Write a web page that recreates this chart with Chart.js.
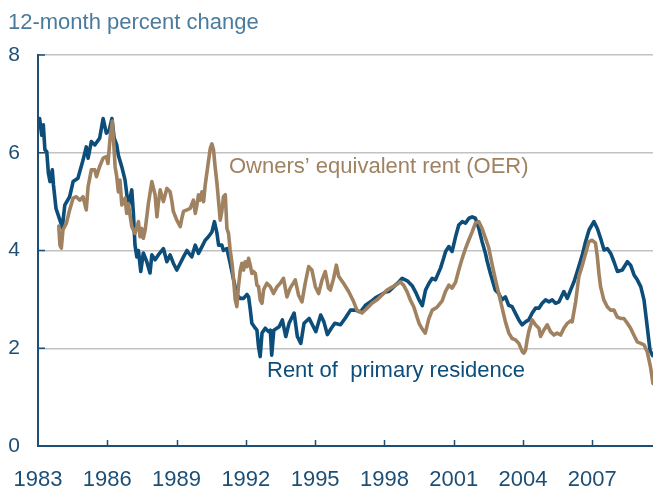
<!DOCTYPE html>
<html>
<head>
<meta charset="utf-8">
<script src="https://cdn.jsdelivr.net/npm/chart.js@4.4.1/dist/chart.umd.min.js"></script>
<style>
  html, body { margin: 0; padding: 0; background: #ffffff; }
  #wrap { width: 653px; height: 490px; position: relative; }
</style>
</head>
<body>
<div id="wrap"><canvas id="c" width="653" height="490"></canvas></div>
<script>
// ---- Data (12-month percent change) ----
const tickYears = [1983, 1986, 1989, 1992, 1995, 1998, 2001, 2004, 2007];
const yTicks = [0, 2, 4, 6, 8];

const rentYears = [
1983.00,1983.07,1983.16,1983.23,1983.30,1983.38,1983.45,1983.52,1983.62,1983.67,1983.78,1983.88,1984.00,1984.05,1984.16,1984.37,1984.52,1984.73,1984.95,
1985.09,1985.17,1985.31,1985.46,1985.67,1985.82,1985.96,1986.08,1986.20,1986.30,1986.41,1986.48,1986.63,1986.77,1986.91,
1987.06,1987.13,1987.20,1987.28,1987.35,1987.45,1987.56,1987.71,1987.85,1987.93,1988.07,1988.21,1988.43,1988.58,1988.72,1988.86,
1989.01,1989.16,1989.30,1989.45,1989.52,1989.66,1989.81,1989.95,1990.10,1990.24,1990.38,1990.53,1990.64,1990.75,1990.82,1990.96,
1991.03,1991.18,1991.32,1991.47,1991.61,1991.76,1991.90,1992.05,1992.12,1992.19,1992.26,1992.41,1992.48,1992.55,1992.62,1992.70,1992.84,1992.98,
1993.06,1993.12,1993.21,1993.44,1993.58,1993.73,1993.87,1994.09,1994.23,1994.38,1994.52,1994.74,1994.88,1995.03,1995.24,1995.38,1995.53,1995.70,1995.85,
1996.10,1996.31,1996.53,1996.75,1996.96,1997.18,1997.40,1997.61,1997.83,1998.05,1998.19,1998.41,1998.63,1998.77,1998.99,
1999.20,1999.35,1999.50,1999.64,1999.78,1999.93,2000.07,2000.21,2000.43,2000.57,2000.65,2000.79,2000.93,
2001.08,2001.22,2001.37,2001.51,2001.66,2001.80,2001.94,2002.09,2002.23,2002.37,2002.45,2002.59,2002.80,2002.95,
2003.09,2003.24,2003.38,2003.53,2003.67,2003.82,2003.96,2004.11,2004.25,2004.40,2004.54,2004.69,2004.83,2004.98,
2005.12,2005.27,2005.41,2005.56,2005.77,2005.92,2006.06,2006.21,2006.35,2006.57,2006.71,2006.86,
2007.07,2007.22,2007.36,2007.51,2007.65,2007.80,2007.94,2008.09,2008.30,2008.52,2008.66,2008.81,2008.95,
2009.10,2009.24,2009.38,2009.50,2009.61];
const rentValues = [
6.65,6.70,6.36,6.57,6.06,6.02,5.58,5.41,5.65,5.34,4.86,4.72,4.55,4.46,4.93,5.10,5.41,5.48,5.85,
6.12,5.89,6.23,6.16,6.30,6.70,6.40,6.45,6.70,6.30,6.16,5.95,5.71,5.44,4.90,
5.24,4.77,4.11,3.87,4.00,3.57,3.95,3.77,3.54,3.91,3.81,3.91,4.04,3.77,3.91,3.74,
3.60,3.74,3.87,4.00,3.95,3.87,4.11,3.94,4.08,4.21,4.28,4.38,4.59,4.35,4.11,4.11,
4.00,4.04,3.74,3.40,3.09,3.02,3.02,3.10,3.05,2.80,2.51,2.41,2.37,2.03,1.83,2.31,2.41,2.34,
2.37,1.86,2.37,2.44,2.58,2.24,2.51,2.72,2.24,2.10,2.51,2.61,2.48,2.34,2.68,2.54,2.28,2.41,2.51,
2.48,2.62,2.78,2.78,2.74,2.88,2.95,3.03,3.09,3.15,3.16,3.26,3.36,3.43,3.38,
3.28,3.15,2.99,2.87,3.19,3.33,3.43,3.40,3.64,3.85,3.98,4.08,3.98,
4.28,4.52,4.59,4.56,4.66,4.69,4.66,4.45,4.18,3.95,3.78,3.53,3.19,3.12,
2.99,3.05,2.88,2.85,2.72,2.58,2.48,2.54,2.58,2.72,2.82,2.82,2.92,2.99,
2.95,2.99,2.92,2.95,3.16,3.02,3.19,3.36,3.57,3.91,4.18,4.42,
4.59,4.45,4.25,4.01,4.04,3.94,3.77,3.57,3.60,3.77,3.70,3.50,3.40,
3.26,2.99,2.44,1.96,1.85];

const oerYears = [
1983.90,1983.95,1984.01,1984.08,1984.23,1984.37,1984.52,1984.66,1984.81,1984.95,1985.09,1985.17,1985.31,1985.46,1985.53,1985.67,1985.82,1985.96,
1986.03,1986.12,1986.22,1986.34,1986.41,1986.48,1986.55,1986.63,1986.77,1986.84,1986.91,1987.06,1987.20,1987.35,1987.42,1987.49,1987.56,1987.64,1987.78,1987.93,
1988.07,1988.15,1988.21,1988.29,1988.43,1988.58,1988.72,1988.80,1988.86,1989.01,1989.16,1989.23,1989.30,1989.45,1989.59,1989.73,1989.81,1989.88,1989.95,
1990.02,1990.10,1990.17,1990.24,1990.31,1990.38,1990.46,1990.53,1990.60,1990.67,1990.75,1990.82,1990.89,1990.96,
1991.03,1991.11,1991.18,1991.25,1991.32,1991.40,1991.47,1991.54,1991.61,1991.68,1991.76,1991.83,1991.90,1991.97,
1992.05,1992.12,1992.19,1992.26,1992.33,1992.41,1992.48,1992.55,1992.62,1992.70,1992.77,1992.91,
1993.06,1993.20,1993.35,1993.49,1993.63,1993.78,1993.92,1994.14,1994.28,1994.43,1994.57,1994.72,1994.86,
1995.01,1995.15,1995.30,1995.44,1995.58,1995.66,1995.80,1995.92,1996.02,1996.23,1996.45,1996.67,1996.81,
1997.03,1997.25,1997.46,1997.68,1997.90,1998.11,1998.33,1998.55,1998.69,1998.83,1998.98,
1999.12,1999.27,1999.41,1999.51,1999.63,1999.77,1999.92,2000.07,2000.28,2000.50,2000.64,2000.79,2000.93,
2001.08,2001.22,2001.37,2001.51,2001.65,2001.80,2001.94,2002.09,2002.23,2002.38,2002.52,2002.67,2002.81,2002.95,
2003.10,2003.24,2003.39,2003.53,2003.68,2003.82,2003.97,2004.04,2004.11,2004.18,2004.25,2004.40,2004.54,2004.69,2004.76,2004.90,
2005.05,2005.19,2005.34,2005.48,2005.63,2005.77,2005.92,2006.06,2006.13,2006.28,2006.42,2006.57,2006.71,2006.85,
2007.00,2007.14,2007.22,2007.29,2007.36,2007.50,2007.65,2007.79,2007.94,2008.08,2008.23,2008.37,2008.52,2008.66,2008.80,2008.95,
2009.10,2009.24,2009.38,2009.52,2009.63];
const oerValues = [
4.50,4.11,4.05,4.42,4.56,4.83,5.07,5.10,5.03,5.10,4.83,5.31,5.65,5.65,5.51,5.72,5.89,5.92,
5.78,6.30,6.65,5.71,5.51,5.20,5.44,4.93,5.07,4.76,4.96,4.49,4.35,4.59,4.28,4.45,4.25,4.42,4.96,5.41,
5.14,4.69,4.96,5.24,5.00,5.27,5.20,5.00,4.80,4.62,4.49,4.66,4.80,4.83,4.86,5.03,4.76,4.93,5.14,
5.03,5.20,5.00,5.34,5.58,5.82,6.09,6.18,6.06,5.71,5.37,5.00,4.62,4.80,
5.10,5.14,4.45,4.35,4.01,3.74,3.40,2.99,2.85,3.26,3.60,3.74,3.60,3.77,
3.67,3.84,3.70,3.53,3.57,3.53,3.29,3.26,2.99,2.92,3.20,3.33,
3.26,3.12,3.26,3.33,3.43,3.05,3.23,3.40,3.09,2.95,3.33,3.67,3.60,
3.26,3.12,3.40,3.57,3.23,3.19,3.43,3.70,3.47,3.33,3.16,2.95,2.78,
2.72,2.82,2.92,2.99,3.09,3.19,3.25,3.31,3.36,3.29,3.16,
2.99,2.85,2.64,2.50,2.40,2.31,2.60,2.78,2.84,2.97,3.16,3.29,3.23,
3.35,3.60,3.84,4.04,4.21,4.38,4.56,4.59,4.45,4.25,4.05,3.70,3.40,3.12,
2.82,2.54,2.31,2.20,2.17,2.10,1.93,1.90,1.96,2.17,2.34,2.58,2.48,2.41,2.24,2.37,
2.48,2.34,2.27,2.31,2.27,2.41,2.51,2.56,2.54,2.95,3.47,3.70,3.94,4.18,
4.21,4.15,3.87,3.53,3.26,2.99,2.85,2.78,2.78,2.64,2.61,2.61,2.51,2.41,2.27,2.13,
2.10,2.07,1.93,1.62,1.28];

// ---- Styling ----
const FONT = '"Liberation Sans", Arial, Helvetica, sans-serif';
const AXIS_COLOR = '#1d4f76';
const RENT_COLOR = '#0d4d7a';
const OER_COLOR = '#a08261';
const GRID_COLOR = '#c2c2c2';
const TITLE_COLOR = '#4a7b9d';

const toXY = (xs, ys) => xs.map((x, i) => ({ x: x, y: ys[i] }));

const textPlugin = {
  id: 'texts',
  afterDraw(chart) {
    const ctx = chart.ctx;
    const xs = chart.scales.x, ys = chart.scales.y;
    ctx.save();
    // inward tick marks
    ctx.strokeStyle = AXIS_COLOR;
    ctx.lineWidth = 1.5;
    tickYears.forEach(v => {
      if (v === xs.min) return;
      const px = Math.round(xs.getPixelForValue(v)) + 0.5;
      ctx.beginPath();
      ctx.moveTo(px, ys.bottom);
      ctx.lineTo(px, ys.bottom - 6);
      ctx.stroke();
    });
    yTicks.forEach(v => {
      if (v === ys.min) return;
      const py = ys.getPixelForValue(v);
      ctx.beginPath();
      ctx.moveTo(xs.left, py);
      ctx.lineTo(xs.left + 7, py);
      ctx.stroke();
    });
    // title and labels
    ctx.textBaseline = 'alphabetic';
    ctx.textAlign = 'left';
    ctx.font = '22px ' + FONT;
    ctx.fillStyle = TITLE_COLOR;
    ctx.fillText('12-month percent change', 8, 29);
    ctx.font = '22px ' + FONT;
    ctx.fillStyle = OER_COLOR;
    ctx.fillText('Owners\u2019 equivalent rent (OER)', 229, 173);
    ctx.fillStyle = RENT_COLOR;
    ctx.fillText('Rent of  primary residence', 267, 377);
    ctx.restore();
  }
};

new Chart(document.getElementById('c'), {
  type: 'line',
  data: {
    datasets: [
      {
        label: 'Owners\u2019 equivalent rent (OER)',
        data: toXY(oerYears, oerValues),
        borderColor: OER_COLOR,
        borderWidth: 3.6,
        pointRadius: 0,
        tension: 0,
        borderJoinStyle: 'round',
        borderCapStyle: 'round',
        order: 0
      },
      {
        label: 'Rent of primary residence',
        data: toXY(rentYears, rentValues),
        borderColor: RENT_COLOR,
        borderWidth: 3.6,
        pointRadius: 0,
        tension: 0,
        borderJoinStyle: 'round',
        borderCapStyle: 'round',
        order: 1
      }
    ]
  },
  options: {
    responsive: false,
    animation: false,
    devicePixelRatio: 1,
    layout: { padding: { top: 55, right: 0, left: 0, bottom: 0 } },
    plugins: { legend: { display: false }, tooltip: { enabled: false }, title: { display: false } },
    scales: {
      x: {
        type: 'linear',
        min: 1983,
        max: 2009.63,
        afterFit(s) { s.height = 44; },
        afterBuildTicks(s) { s.ticks = tickYears.map(v => ({ value: v })); },
        ticks: {
          callback: v => String(v),
          font: { family: FONT, size: 22 },
          color: AXIS_COLOR,
          padding: 0,
          maxRotation: 0,
          autoSkip: false
        },
        grid: { display: false, drawTicks: true, tickLength: 21 },
        border: { display: true, color: AXIS_COLOR, width: 2 }
      },
      y: {
        min: 0,
        max: 8,
        afterFit(s) { s.width = 38; },
        afterBuildTicks(s) { s.ticks = yTicks.map(v => ({ value: v })); },
        ticks: {
          callback: v => String(v),
          font: { family: FONT, size: 21 },
          color: AXIS_COLOR,
          padding: 18
        },
        grid: {
          drawTicks: false,
          color: ctx => (ctx.tick && ctx.tick.value === 0) ? 'rgba(0,0,0,0)' : GRID_COLOR,
          lineWidth: 1.5
        },
        border: { display: true, color: AXIS_COLOR, width: 2 }
      }
    }
  },
  plugins: [textPlugin]
});
</script>
</body>
</html>
